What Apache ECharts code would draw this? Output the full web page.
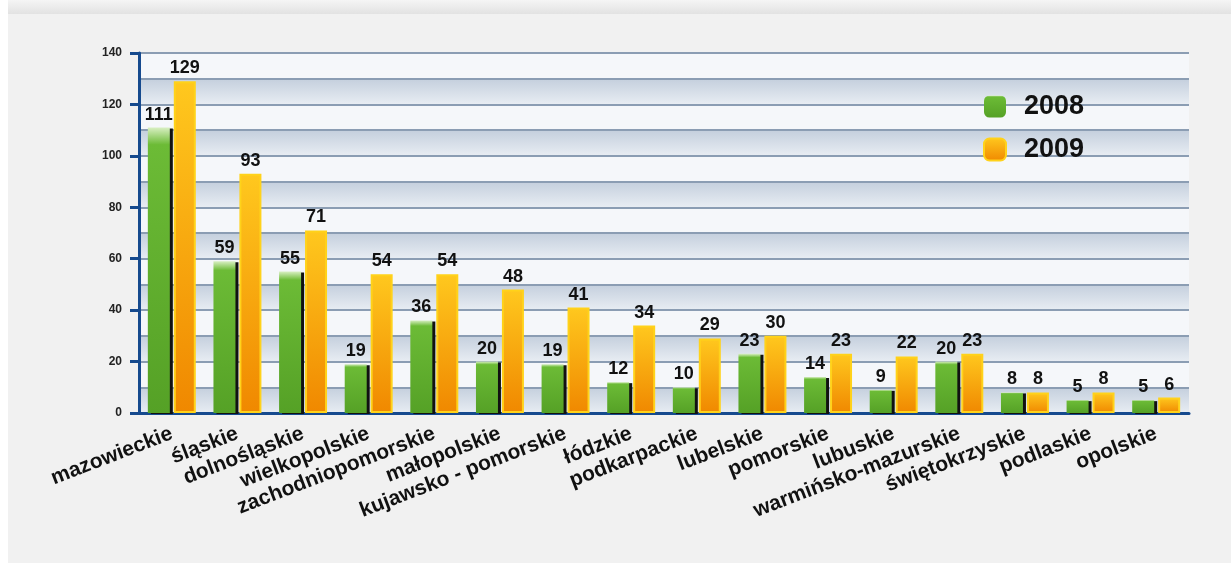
<!DOCTYPE html>
<html>
<head>
<meta charset="utf-8">
<script src="https://cdn.jsdelivr.net/npm/echarts@6/dist/echarts.min.js"></script>
<style>
html,body{margin:0;padding:0;background:#f1f1f1;}
#c{width:1231px;height:563px;}
</style>
</head>
<body>
<div id="c"></div>
<script>
const categories = ['mazowieckie','śląskie','dolnośląskie','wielkopolskie','zachodniopomorskie','małopolskie','kujawsko - pomorskie','łódzkie','podkarpackie','lubelskie','pomorskie','lubuskie','warmińsko-mazurskie','świętokrzyskie','podlaskie','opolskie'];
const values2008 = [111,59,55,19,36,20,19,12,10,23,14,9,20,8,5,5];
const values2009 = [129,93,71,54,54,48,41,34,29,30,23,22,23,8,8,6];
const seriesNames = ['2008','2009'];
const yMin = 0, yMax = 140, yLabelStep = 20, yBandStep = 10;

const chart = echarts.init(document.getElementById('c'));
const font = 'Liberation Sans, Arial, sans-serif';
const axisBlue = '#164a8e';
const greenFill = new echarts.graphic.LinearGradient(0,0,0,1,[
  {offset:0,color:'#d8efc2'},{offset:0.06,color:'#6cbb36'},{offset:1,color:'#55a126'}]);
const orangeFill = new echarts.graphic.LinearGradient(0,0,0,1,[
  {offset:0,color:'#ffc81e'},{offset:1,color:'#f08800'}]);
const shaded = new echarts.graphic.LinearGradient(0,0,0,1,[
  {offset:0,color:'#c4cfdd'},{offset:1,color:'#e8edf3'}]);

chart.setOption({
  backgroundColor:'#f1f1f1',
  animation:false,
  graphic:[
    {type:'rect',left:0,top:0,shape:{width:1231,height:14},style:{fill:new echarts.graphic.LinearGradient(0,0,0,1,[{offset:0,color:'#f5f5f5'},{offset:1,color:'#e2e2e2'}])},silent:true},
    {type:'rect',left:0,top:0,shape:{width:8,height:563},style:{fill:'#ffffff'},silent:true}
  ],
  grid:{left:139,right:42,top:53,bottom:150,containLabel:false},
  legend:{
    data:seriesNames,orient:'vertical',left:978,top:88,itemWidth:22,itemHeight:22,itemGap:16,
    textStyle:{fontFamily:font,fontWeight:'bold',fontSize:27,color:'#111',padding:[0,0,0,13]}
  },
  xAxis:{
    type:'category',data:categories,
    axisLine:{lineStyle:{color:axisBlue,width:3}},
    axisTick:{length:8,lineStyle:{color:axisBlue,width:3}},
    axisLabel:{interval:0,rotate:21,margin:20,fontFamily:font,fontWeight:'bold',fontSize:21,color:'#111'}
  },
  yAxis:[
    {type:'value',min:yMin,max:yMax,interval:yLabelStep,
     axisLine:{show:true,lineStyle:{color:axisBlue,width:3}},
     axisTick:{show:true,length:9,lineStyle:{color:axisBlue,width:3}},
     axisLabel:{margin:17,fontFamily:font,fontWeight:'bold',fontSize:12,color:'#222'},
     splitLine:{show:false},z:5},
    {type:'value',min:yMin,max:yMax,interval:yBandStep,position:'left',
     axisLine:{show:false},axisTick:{show:false},axisLabel:{show:false},
     splitLine:{show:true,lineStyle:{color:'#8b9db3',width:2}},
     splitArea:{show:true,areaStyle:{color:[shaded,'#f5f7fa']}}}
  ],
  series:[
    {name:seriesNames[0],type:'bar',data:values2008,barWidth:22,barGap:'18%',yAxisIndex:0,
     itemStyle:{color:greenFill,shadowColor:'#111',shadowOffsetX:3,shadowOffsetY:1,shadowBlur:0},
     label:{show:true,position:'top',distance:4,fontFamily:font,fontWeight:'bold',fontSize:18,color:'#111'}},
    {name:seriesNames[1],type:'bar',data:values2009,barWidth:22,yAxisIndex:0,
     itemStyle:{color:orangeFill,borderColor:'#ffd21a',borderWidth:2},
     label:{show:true,position:'top',distance:4,fontFamily:font,fontWeight:'bold',fontSize:18,color:'#111'}}
  ]
});
</script>
</body>
</html>
